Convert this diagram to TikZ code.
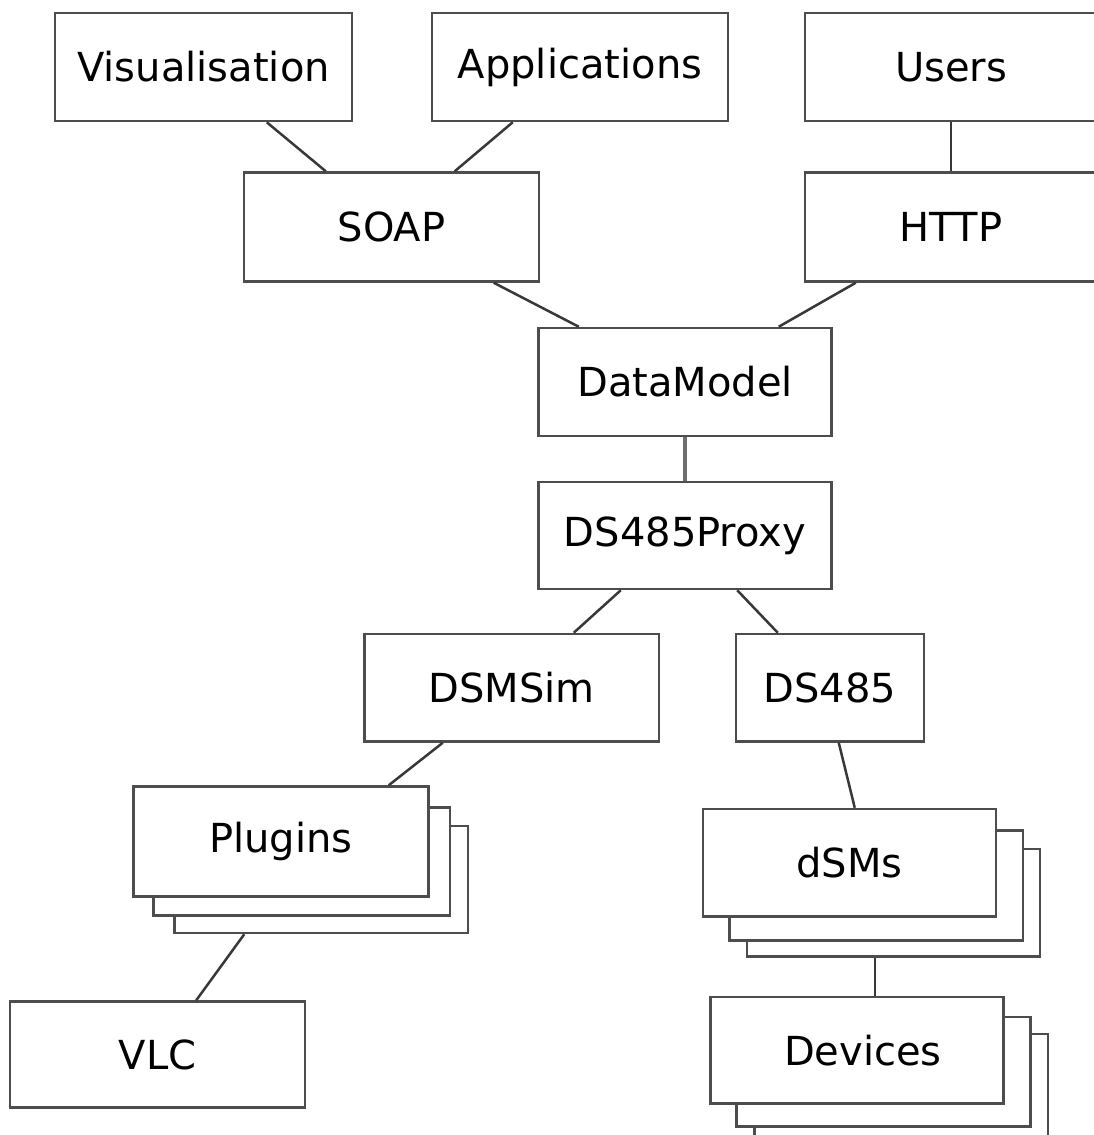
\documentclass[tikz,border=0pt]{standalone}
\usepackage{fontspec}
\setmainfont{DejaVu Sans}
\usetikzlibrary{calc}
\definecolor{edge}{HTML}{4D4D4D}
\definecolor{wire}{HTML}{383838}
\definecolor{trunk}{HTML}{6E6E6E}
\tikzset{
  box/.style={draw=edge, line width=2.5pt, fill=white, rectangle, inner sep=0pt,
    font=\fontsize{40}{48}\selectfont, text=black},
  wirestyle/.style={draw=wire, line width=2.5pt},
}
\newcommand{\bx}[6]{\node[box, minimum width=#4, minimum height=#5] (#1) at (#2,#3) {#6};}
\begin{document}
\begin{tikzpicture}[x=1pt,y=-1pt]
\useasboundingbox (0,0) rectangle (1094,1135);

% top layer
\bx{vis}{203.5}{67}{297pt}{108pt}{Visualisation}
\bx{app}{580}{67}{296pt}{108pt}{Applications}
\bx{users}{951}{67}{292pt}{108pt}{Users}
% protocol layer
\bx{soap}{391.5}{227}{295pt}{109pt}{SOAP}
\bx{http}{951}{227}{292pt}{109pt}{HTTP}
% core
\bx{dm}{685}{382}{293pt}{108pt}{DataModel}
\bx{proxy}{685}{535.5}{293pt}{107pt}{DS485Proxy}
\bx{dsmsim}{511.75}{687.75}{294.5pt}{107.5pt}{DSMSim}
\bx{ds485}{830}{687.75}{188pt}{107.5pt}{DS485}
% plugin stack
\bx{plugC}{321.25}{879.5}{293.5pt}{107pt}{}
\bx{plugB}{301.75}{861.5}{296.5pt}{108pt}{}
\bx{plugins}{281}{841.5}{295pt}{110pt}{Plugins}
\bx{vlc}{157.5}{1054.5}{295pt}{106pt}{VLC}
% dSM stack
\bx{dsmC}{893.5}{902.75}{293pt}{107.5pt}{}
\bx{dsmB}{876.25}{885.5}{293.5pt}{110pt}{}
\bx{dsms}{849.5}{862.75}{293pt}{107.5pt}{dSMs}
% device stack
\bx{devC}{901.25}{1088.5}{293.5pt}{109pt}{}
\bx{devB}{883.5}{1071.75}{294pt}{109.5pt}{}
\bx{dev}{857}{1050.25}{293pt}{106.5pt}{\hspace*{12pt}Devices}

% connectors
\draw[wirestyle] ([xshift=213pt]vis.south west) -- ([xshift=83pt]soap.north west);
\draw[wirestyle] ([xshift=82pt]app.south west) -- ([xshift=212pt]soap.north west);
\draw[wirestyle] (users.south) -- (http.north);
\draw[wirestyle] ([xshift=251pt]soap.south west) -- ([xshift=41.5pt]dm.north west);
\draw[wirestyle] ([xshift=52pt]http.south west) -- ([xshift=241.5pt]dm.north west);
\draw[draw=trunk, line width=4pt] (dm.south) -- (proxy.north);
\draw[wirestyle] ([xshift=83.5pt]proxy.south west) -- ([xshift=210.5pt]dsmsim.north west);
\draw[wirestyle] ([xshift=200pt]proxy.south west) -- ([xshift=43pt]ds485.north west);
\draw[wirestyle] ([xshift=79.5pt]dsmsim.south west) -- ([xshift=256.5pt]plugins.north west);
\draw[wirestyle] ([xshift=104pt]ds485.south west) -- ([xshift=153pt]dsms.north west);
\draw[wirestyle] ([xshift=71pt]plugC.south west) -- ([xshift=187.5pt]vlc.north west);
\draw[wirestyle] ([xshift=129pt]dsmC.south west) -- ([xshift=165.5pt]dev.north west);
\end{tikzpicture}
\end{document}
